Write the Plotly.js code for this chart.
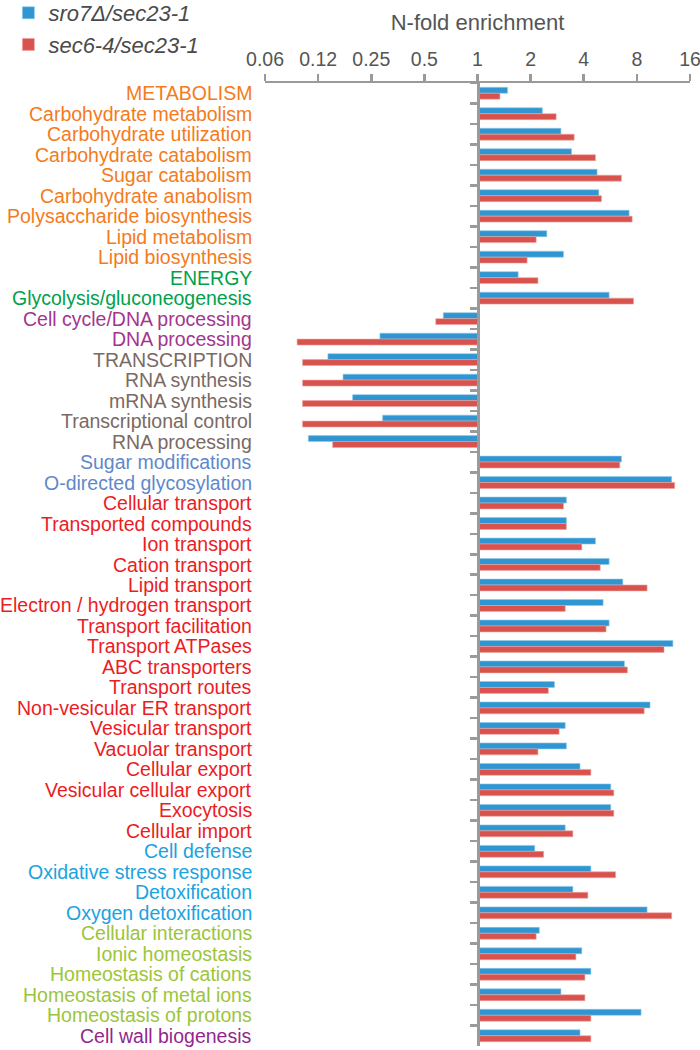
<!DOCTYPE html>
<html>
<head>
<meta charset="utf-8">
<script src="https://cdn.plot.ly/plotly-3.0.1.min.js"></script>
<style>html,body{margin:0;padding:0;background:#fff;}#chart{width:700px;height:1050px;}</style>
</head>
<body>
<div id="chart"></div>
<script>
const categories = [
  "METABOLISM","Carbohydrate metabolism","Carbohydrate utilization","Carbohydrate catabolism",
  "Sugar catabolism","Carbohydrate anabolism","Polysaccharide biosynthesis","Lipid metabolism",
  "Lipid biosynthesis","ENERGY","Glycolysis/gluconeogenesis","Cell cycle/DNA processing",
  "DNA processing","TRANSCRIPTION","RNA synthesis","mRNA synthesis","Transcriptional control",
  "RNA processing","Sugar modifications","O-directed glycosylation","Cellular transport",
  "Transported compounds","Ion transport","Cation transport","Lipid transport",
  "Electron / hydrogen transport","Transport facilitation","Transport ATPases","ABC transporters",
  "Transport routes","Non-vesicular ER transport","Vesicular transport","Vacuolar transport",
  "Cellular export","Vesicular cellular export","Exocytosis","Cellular import","Cell defense",
  "Oxidative stress response","Detoxification","Oxygen detoxification","Cellular interactions",
  "Ionic homeostasis","Homeostasis of cations","Homeostasis of metal ions","Homeostasis of protons",
  "Cell wall biogenesis"
];
const groups = [
  "metabolism","metabolism","metabolism","metabolism","metabolism","metabolism","metabolism","metabolism",
  "metabolism","energy","energy","cellcycle","cellcycle","transcription","transcription","transcription",
  "transcription","transcription","sugarmod","sugarmod","transport","transport","transport","transport",
  "transport","transport","transport","transport","transport","transport","transport","transport",
  "transport","transport","transport","transport","transport","defense","defense","defense","defense",
  "interaction","interaction","interaction","interaction","interaction","cellwall"
];
const sro7 = [
  1.48,2.33,2.97,3.41,4.76,4.87,7.23,2.47,3.07,1.70,5.57,
  0.64,0.28,0.142,0.173,0.196,0.29,0.11,
  6.54,12.6,
  3.19,3.19,4.66,5.57,6.66,5.15,5.57,12.8,6.8,2.73,9.5,3.14,3.19,3.81,5.69,5.69,3.14,
  2.11,4.39,3.47,9.14,
  2.24,3.90,4.39,2.97,8.45,
  3.81
];
const sec6 = [
  1.34,2.79,3.53,4.66,6.54,5.04,7.52,2.15,1.91,2.20,7.66,
  0.58,0.095,0.102,0.102,0.102,0.102,0.151,
  6.4,13.1,
  3.07,3.19,3.90,4.96,9.14,3.14,5.35,11.4,7.07,2.52,8.8,2.9,2.20,4.39,5.92,5.92,3.47,
  2.37,6.06,4.22,12.6,
  2.15,3.61,4.06,4.06,4.39,
  4.39
];
const seriesNames = ["sro7\u0394/sec23-1", "sec6-4/sec23-1"];
const tickValues = [0.0625,0.125,0.25,0.5,1,2,4,8,16];
const tickLabels = ["0.06","0.12","0.25","0.5","1","2","4","8","16"];

const groupColors = {
  metabolism: "#F47B20", energy: "#00A14B", cellcycle: "#A4358F", transcription: "#7A6A63",
  sugarmod: "#5F88CB", transport: "#EC1C24", defense: "#1AA3E0", interaction: "#9CC53A",
  cellwall: "#93278F"
};
const FONT = "Liberation Sans, Arial, Helvetica, sans-serif";
const baseVal = 1;
const eps = 1e-4;

const traces = [
  {type:"bar", orientation:"h", name:seriesNames[0], y:categories,
   x:sro7.map(v => v - baseVal), base:baseVal,
   marker:{color:"#2F96D1", line:{color:"#8fc8ea", width:0.6}}},
  {type:"bar", orientation:"h", name:seriesNames[1], y:categories,
   x:sec6.map(v => v - baseVal), base:baseVal,
   marker:{color:"#D9534E", line:{color:"#eba3a0", width:0.6}}}
];

const annotations = categories.map((c, i) => ({
  xref:"paper", yref:"y", x:-0.026, y:c, xanchor:"right", yanchor:"middle",
  text:c, showarrow:false, font:{family:FONT, size:19.5, color:groupColors[groups[i]]}
}));

const layout = {
  width:700, height:1050,
  margin:{l:265, r:10, t:83, b:4},
  paper_bgcolor:"#fff", plot_bgcolor:"#fff",
  barmode:"group", bargap:0.42, bargroupgap:0,
  font:{family:FONT, color:"#555"},
  title:{text:"N-fold enrichment", xref:"paper", x:0.5, xanchor:"center",
         yref:"container", y:1 - 22/1050, yanchor:"middle",
         font:{family:FONT, size:22, color:"#555"}},
  xaxis:{type:"log", side:"top", range:[Math.log10(1/16) - eps, Math.log10(16) + eps],
         tickmode:"array", tickvals:tickValues, ticktext:tickLabels,
         ticks:"outside", ticklen:7, tickwidth:2.5, tickcolor:"#9a9a9a",
         ticklabeloverflow:"allow",
         showline:true, linecolor:"#9a9a9a", linewidth:2.5,
         showgrid:false, zeroline:false,
         tickfont:{family:FONT, size:19.5, color:"#555"}},
  yaxis:{type:"category", categoryorder:"array", categoryarray:categories,
         range:[categories.length - 0.5, -0.5],
         anchor:"free", position:0.5,
         showticklabels:false, ticks:"outside", tickson:"boundaries",
         ticklen:7, tickwidth:2.5, tickcolor:"#9a9a9a",
         showline:true, linecolor:"#9a9a9a", linewidth:3,
         showgrid:false, zeroline:false},
  showlegend:true,
  legend:{xref:"container", yref:"container", x:0.012, y:1.0, xanchor:"left", yanchor:"top",
          font:{family:FONT, size:22, color:"#4a4a4a", style:"italic"},
          bgcolor:"rgba(0,0,0,0)", borderwidth:0, tracegroupgap:0},
  annotations:annotations
};

Plotly.newPlot("chart", traces, layout, {displayModeBar:false, staticPlot:true}).then(gd => {
  // nudge legend up to match the reference's top spacing
  const lg = gd.querySelector(".legend");
  if (lg) {
    const t = lg.getAttribute("transform") || "";
    const m = t.match(/translate\(([-\d.]+),\s*([-\d.]+)\)/);
    if (m) lg.setAttribute("transform", "translate(" + m[1] + "," + (parseFloat(m[2]) - 8) + ")");
  }
});
</script>
</body>
</html>
